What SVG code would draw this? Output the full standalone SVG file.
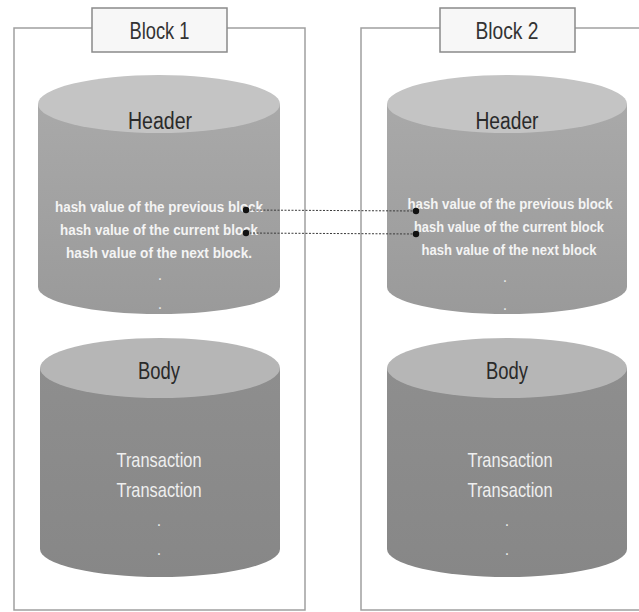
<svg xmlns="http://www.w3.org/2000/svg" width="639" height="612" viewBox="0 0 639 612">
  <style>
    .frame { fill: none; stroke: #a0a0a0; stroke-width: 1.5; }
    .title-box { fill: #f7f7f7; stroke: #8a8a8a; stroke-width: 1.5; }
    .title { font-family: "Liberation Sans", Arial, sans-serif; font-size: 24px; fill: #333; text-anchor: middle; }
    .cap { font-family: "Liberation Sans", Arial, sans-serif; font-size: 23px; fill: #2a2a2a; text-anchor: middle; }
    .hash { font-family: "Liberation Sans", Arial, sans-serif; font-size: 15px; fill: #f4f4f4; text-anchor: middle; font-weight: bold; }
    .tx { font-family: "Liberation Sans", Arial, sans-serif; font-size: 21px; fill: #efefef; text-anchor: middle; }
    .dot { font-family: "Liberation Sans", Arial, sans-serif; font-size: 16px; fill: #e8e8e8; text-anchor: middle; }
    .hdr-top { fill: #c4c4c4; }
    .body-top { fill: #b6b6b6; }
    .conn { stroke: #3a3a3a; stroke-width: 1; stroke-dasharray: 2 1.5; fill: none; }
    .end { fill: #111; }
  </style>
  <defs>
    <linearGradient id="hdrSide" x1="0" y1="0" x2="0" y2="1">
      <stop offset="0" stop-color="#a9a9a9"/>
      <stop offset="1" stop-color="#9a9a9a"/>
    </linearGradient>
    <linearGradient id="bodySide" x1="0" y1="0" x2="0" y2="1">
      <stop offset="0" stop-color="#8e8e8e"/>
      <stop offset="1" stop-color="#878787"/>
    </linearGradient>
  </defs>
  <rect width="639" height="612" fill="#ffffff"/>

  <!-- Block 1 -->
  <g id="block1">
    <polyline class="frame" points="92,28 14,28 14,610 305,610 305,28 227,28"/>
    <rect class="title-box" x="92" y="8" width="135" height="44"/>
    <text class="title" x="159.5" y="39" textLength="60" lengthAdjust="spacingAndGlyphs">Block 1</text>
  </g>
  <g id="header1">
    <path d="M38,104 L38,287 A121,27 0 0 0 280,287 L280,104 Z" fill="url(#hdrSide)"/>
    <ellipse class="hdr-top" cx="159" cy="104" rx="121" ry="29"/>
    <text class="cap" x="160" y="129" textLength="64" lengthAdjust="spacingAndGlyphs">Header</text>
    <text class="hash" x="159" y="212" textLength="208" lengthAdjust="spacingAndGlyphs">hash value of the previous block</text>
    <text class="hash" x="159" y="235" textLength="198" lengthAdjust="spacingAndGlyphs">hash value of the current block</text>
    <text class="hash" x="159" y="258" textLength="186" lengthAdjust="spacingAndGlyphs">hash value of the next block.</text>
    <text class="dot" x="160" y="280">.</text>
    <text class="dot" x="160" y="309">.</text>
  </g>
  <g id="body1">
    <path d="M40,368 L40,549 A120,28 0 0 0 280,549 L280,368 Z" fill="url(#bodySide)"/>
    <ellipse class="body-top" cx="160" cy="368" rx="120" ry="30"/>
    <text class="cap" x="159" y="379" textLength="42" lengthAdjust="spacingAndGlyphs">Body</text>
    <text class="tx" x="159" y="467" textLength="85" lengthAdjust="spacingAndGlyphs">Transaction</text>
    <text class="tx" x="159" y="497" textLength="85" lengthAdjust="spacingAndGlyphs">Transaction</text>
    <text class="dot" x="159" y="526">.</text>
    <text class="dot" x="159" y="555">.</text>
  </g>

  <!-- Block 2 -->
  <g id="block2">
    <polyline class="frame" points="440,28 361,28 361,610 639,610"/>
    <line class="frame" x1="575" y1="28" x2="639" y2="28"/>
    <rect class="title-box" x="440" y="8" width="135" height="44"/>
    <text class="title" x="507" y="39" textLength="63" lengthAdjust="spacingAndGlyphs">Block 2</text>
  </g>
  <g id="header2">
    <path d="M387,104 L387,287 A120,27 0 0 0 627,287 L627,104 Z" fill="url(#hdrSide)"/>
    <ellipse class="hdr-top" cx="507" cy="104" rx="120" ry="29"/>
    <text class="cap" x="507" y="129" textLength="63" lengthAdjust="spacingAndGlyphs">Header</text>
    <text class="hash" x="510" y="209" textLength="205" lengthAdjust="spacingAndGlyphs">hash value of the previous block</text>
    <text class="hash" x="509" y="232" textLength="190" lengthAdjust="spacingAndGlyphs">hash value of the current block</text>
    <text class="hash" x="509" y="255" textLength="175" lengthAdjust="spacingAndGlyphs">hash value of the next block</text>
    <text class="dot" x="505" y="282">.</text>
    <text class="dot" x="505" y="310">.</text>
  </g>
  <g id="body2">
    <path d="M387,368 L387,549 A120,28 0 0 0 627,549 L627,368 Z" fill="url(#bodySide)"/>
    <ellipse class="body-top" cx="507" cy="368" rx="120" ry="30"/>
    <text class="cap" x="507" y="379" textLength="42" lengthAdjust="spacingAndGlyphs">Body</text>
    <text class="tx" x="510" y="467" textLength="85" lengthAdjust="spacingAndGlyphs">Transaction</text>
    <text class="tx" x="510" y="497" textLength="85" lengthAdjust="spacingAndGlyphs">Transaction</text>
    <text class="dot" x="507" y="526">.</text>
    <text class="dot" x="507" y="555">.</text>
  </g>

  <!-- Connectors -->
  <g id="connectors">
    <line class="conn" x1="246" y1="210" x2="416" y2="211"/>
    <line class="conn" x1="246" y1="233" x2="416" y2="234"/>
    <circle class="end" cx="246" cy="210" r="3.2"/>
    <circle class="end" cx="416" cy="211" r="3.2"/>
    <circle class="end" cx="246" cy="233" r="3.2"/>
    <circle class="end" cx="416" cy="234" r="3.2"/>
  </g>
</svg>
